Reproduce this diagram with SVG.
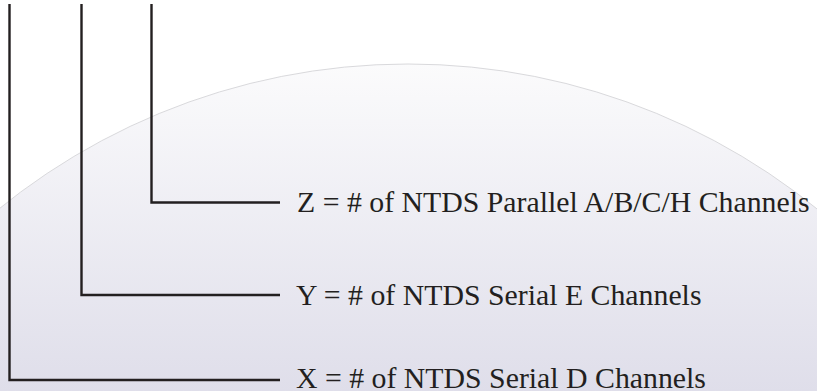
<svg xmlns="http://www.w3.org/2000/svg" width="817" height="391" viewBox="0 0 817 391">
<defs>
<linearGradient id="bg" x1="0" y1="64" x2="0" y2="391" gradientUnits="userSpaceOnUse">
<stop offset="0" stop-color="#fbfbfc"/>
<stop offset="1" stop-color="#dfdeea"/>
</linearGradient>
<style>
.ln{fill:none;stroke:#231f20;stroke-width:2.4;stroke-linejoin:miter}
.lb{font-family:"Liberation Serif","Times New Roman",serif;font-size:29.8px;fill:#231f20}
</style>
</defs>
<rect width="817" height="391" fill="#ffffff"/>
<circle cx="408" cy="714" r="650" fill="url(#bg)" stroke="#d9d9dc" stroke-width="1"/>
<g id="connectors">
<path class="ln" d="M151.5,4 V202.5 H280"/>
<path class="ln" d="M81.5,4 V295 H280"/>
<path class="ln" d="M9.5,4 V380 H280"/>
</g>
<g id="node-z"><text class="lb" x="297" y="212">Z = # of NTDS Parallel A/B/C/H Channels</text></g>
<g id="node-y"><text class="lb" x="296" y="305">Y = # of NTDS Serial E Channels</text></g>
<g id="node-x"><text class="lb" x="296" y="388">X = # of NTDS Serial D Channels</text></g>
</svg>
